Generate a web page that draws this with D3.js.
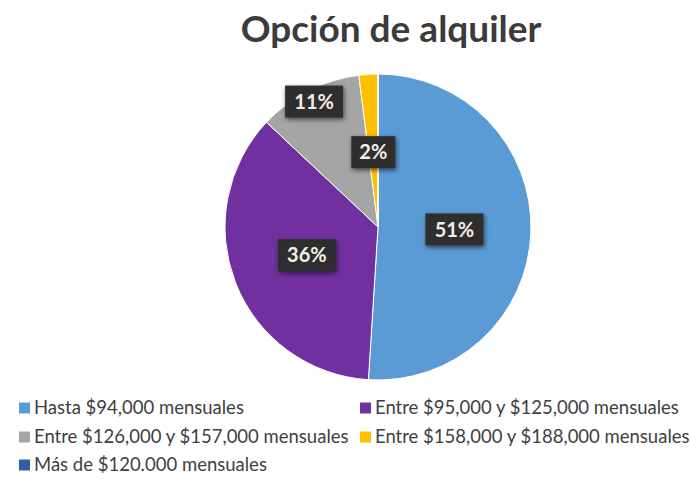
<!DOCTYPE html>
<html>
<head>
<meta charset="utf-8">
<script src="https://cdn.jsdelivr.net/npm/d3@7"></script>
<style>
  body { margin: 0; background: #fff; }
  svg { display: block; }
</style>
</head>
<body>
<div id="chart"></div>
<script>
// Opción de alquiler — pie of rent ranges, Excel-style labels in dark boxes.

const categories = [
  "Hasta $94,000 mensuales",
  "Entre $95,000 y $125,000 mensuales",
  "Entre $126,000 y $157,000 mensuales",
  "Entre $158,000 y $188,000 mensuales",
  "Más de $120.000 mensuales",
];
const values = [51, 36, 11, 2, 0];
const colors = ["#5b9bd5", "#7030a0", "#a5a5a5", "#ffc000", "#2f5fa8"];
const title = "Opción de alquiler";

// label distance as fraction of radius (Excel best-fit put 11% near the rim)
const labelRadius = [0.5, 0.5, 0.92, 0.49, 0.5];

const W = 691, H = 500;
const cx = 378, cy = 227, R = 153;
const FONT = "Lato, 'Open Sans', sans-serif";

const svg = d3.select("#chart").append("svg").attr("width", W).attr("height", H);

const defs = svg.append("defs");
const f = defs.append("filter").attr("id", "shadow").attr("x", "-30%").attr("y", "-30%").attr("width", "160%").attr("height", "160%");
f.append("feGaussianBlur").attr("in", "SourceAlpha").attr("stdDeviation", 2.5).attr("result", "b");
f.append("feOffset").attr("in", "b").attr("dx", 1).attr("dy", 2).attr("result", "o");
f.append("feComponentTransfer").attr("in", "o").attr("result", "s")
  .append("feFuncA").attr("type", "linear").attr("slope", 0.6);
const m = f.append("feMerge");
m.append("feMergeNode").attr("in", "s");
m.append("feMergeNode").attr("in", "SourceGraphic");

svg.append("text")
  .attr("x", 391).attr("y", 42)
  .attr("text-anchor", "middle")
  .attr("font-family", FONT).attr("font-weight", 700).attr("font-size", 37)
  .attr("fill", "#3b3b3b")
  .text(title);

const pie = d3.pie().sort(null).value((d) => d)(values);
const arc = d3.arc().innerRadius(0).outerRadius(R);

const g = svg.append("g").attr("transform", `translate(${cx},${cy})`);
g.selectAll("path.slice").data(pie).join("path")
  .attr("class", "slice")
  .attr("d", arc)
  .attr("fill", (d, i) => colors[i])
  .attr("stroke", "#fff").attr("stroke-width", 1);

// data labels
const lbl = g.selectAll("g.lbl").data(pie.filter((d) => d.value > 0)).join("g")
  .attr("class", "lbl")
  .attr("transform", (d) => {
    const a = (d.startAngle + d.endAngle) / 2;
    const r = R * labelRadius[d.index];
    return `translate(${Math.sin(a) * r},${-Math.cos(a) * r})`;
  });
lbl.append("rect")
  .attr("x", (d) => d.value >= 10 ? -29 : -22).attr("y", -16)
  .attr("width", (d) => d.value >= 10 ? 58 : 44).attr("height", 32)
  .attr("fill", "#2e2e2e")
  .attr("filter", "url(#shadow)");
lbl.append("text")
  .attr("text-anchor", "middle").attr("dy", "0.36em")
  .attr("font-family", FONT).attr("font-weight", 700).attr("font-size", 20)
  .attr("fill", "#f4ede8")
  .text((d) => d.value + "%");

// legend, two columns
const legX = [19, 360], legY = [408, 437, 465];
const leg = svg.selectAll("g.leg").data(categories).join("g")
  .attr("class", "leg")
  .attr("transform", (d, i) => `translate(${legX[i % 2]},${legY[Math.floor(i / 2)]})`);
leg.append("rect").attr("x", 0).attr("y", -5.5).attr("width", 11).attr("height", 11)
  .attr("fill", (d, i) => colors[i]);
leg.append("text").attr("x", 15).attr("dy", "0.35em")
  .attr("font-family", FONT).attr("font-size", 18.5).attr("fill", "#404040")
  .text((d) => d);
</script>
</body>
</html>
